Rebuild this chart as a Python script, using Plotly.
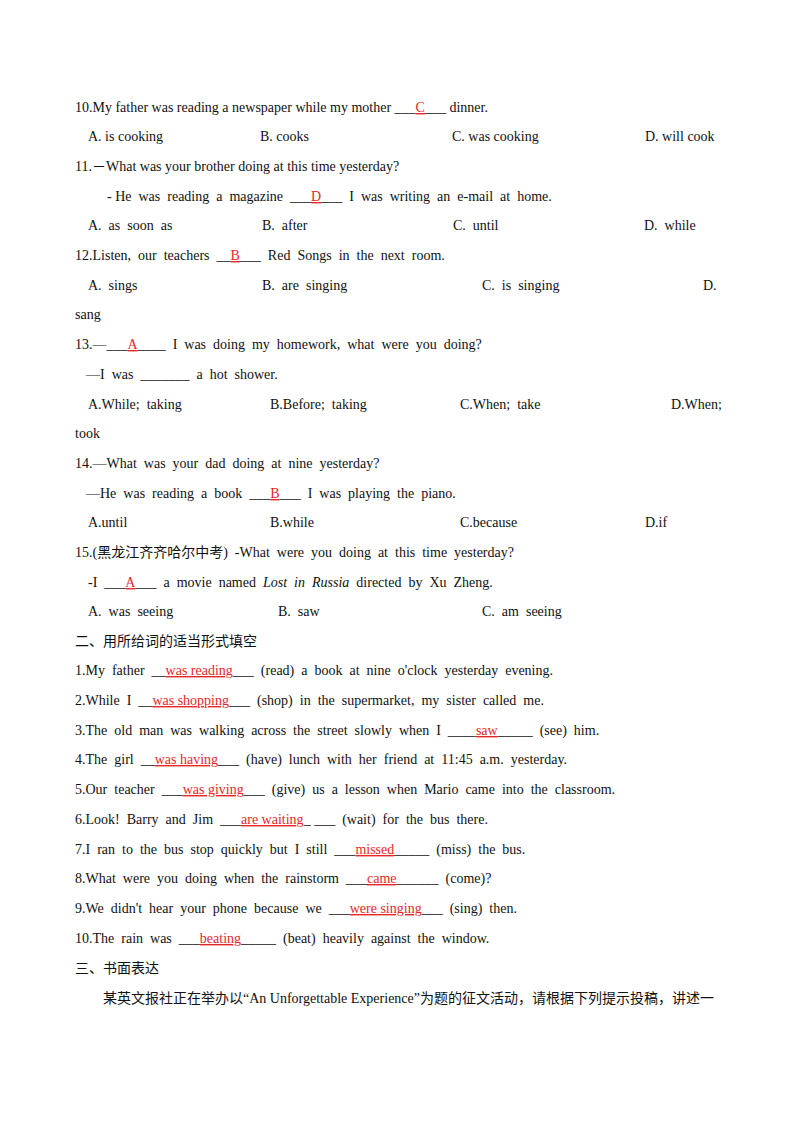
import plotly.graph_objects as go

def R(s):
    return "<span style='color:#e8262a'><u>" + s + "</u></span>"

# Each row: list of (x_position, text); rows are laid out top to bottom
rows = [
    [(75, "10.My father was reading a newspaper while my mother ___" + R("C") + "___ dinner.")],
    [(88, "A. is cooking"), (260, "B. cooks"), (452, "C. was cooking"), (645, "D. will cook")],
    [(75, "11.－What was your brother doing at this time yesterday?")],
    [(107, "- He  was  reading  a  magazine  ___" + R("D") + "___  I  was  writing  an  e-mail  at  home.")],
    [(88, "A.  as  soon  as"), (262, "B.  after"), (453, "C.  until"), (644, "D.  while")],
    [(75, "12.Listen,  our  teachers  __" + R("B") + "___  Red  Songs  in  the  next  room.")],
    [(88, "A.  sings"), (262, "B.  are  singing"), (482, "C.  is  singing"), (703, "D.")],
    [(75, "sang")],
    [(75, "13.—___" + R("A") + "____  I  was  doing  my  homework,  what  were  you  doing?")],
    [(85, "—I  was  _______  a  hot  shower.")],
    [(88, "A.While;  taking"), (270, "B.Before;  taking"), (460, "C.When;  take"), (671, "D.When;")],
    [(75, "took")],
    [(75, "14.—What  was  your  dad  doing  at  nine  yesterday?")],
    [(85, "—He  was  reading  a  book  ___" + R("B") + "___  I  was  playing  the  piano.")],
    [(88, "A.until"), (270, "B.while"), (460, "C.because"), (645, "D.if")],
    [(75, "15.(黑龙江齐齐哈尔中考)  -What  were  you  doing  at  this  time  yesterday?")],
    [(88, "-I  ___" + R("A") + "___  a  movie  named  <i>Lost  in  Russia</i>  directed  by  Xu  Zheng.")],
    [(88, "A.  was  seeing"), (278, "B.  saw"), (482, "C.  am  seeing")],
    [(75, "二、用所给词的适当形式填空")],
    [(75, "1.My  father  __" + R("was reading") + "___  (read)  a  book  at  nine  o'clock  yesterday  evening.")],
    [(75, "2.While  I  __" + R("was shopping") + "___  (shop)  in  the  supermarket,  my  sister  called  me.")],
    [(75, "3.The  old  man  was  walking  across  the  street  slowly  when  I  ____" + R("saw") + "_____  (see)  him.")],
    [(75, "4.The  girl  __" + R("was having") + "___  (have)  lunch  with  her  friend  at  11:45  a.m.  yesterday.")],
    [(75, "5.Our  teacher  ___" + R("was giving") + "___  (give)  us  a  lesson  when  Mario  came  into  the  classroom.")],
    [(75, "6.Look!  Barry  and  Jim  ___" + R("are waiting") + "_ ___  (wait)  for  the  bus  there.")],
    [(75, "7.I  ran  to  the  bus  stop  quickly  but  I  still  ___" + R("missed") + "_____  (miss)  the  bus.")],
    [(75, "8.What  were  you  doing  when  the  rainstorm  ___" + R("came") + "______  (come)?")],
    [(75, "9.We  didn't  hear  your  phone  because  we  ___" + R("were singing") + "___  (sing)  then.")],
    [(75, "10.The  rain  was  ___" + R("beating") + "_____  (beat)  heavily  against  the  window.")],
    [(75, "三、书面表达")],
    [(103, "某英文报社正在举办以“An Unforgettable Experience”为题的征文活动，请根据下列提示投稿，讲述一")],
]

first_y = 107
line_gap = 29.7
x_shift = -10
y_shift = -8

fig = go.Figure()
anns = []
for i, row in enumerate(rows):
    y = first_y + i * line_gap + y_shift
    for x, t in row:
        anns.append(dict(x=x + x_shift, y=y, xref="x", yref="y", text=t, showarrow=False,
                         xanchor="left", yanchor="middle",
                         font=dict(family="Liberation Serif, Noto Sans CJK SC", size=14, color="#111")))
fig.update_layout(
    width=800, height=1132, margin=dict(l=0, r=0, t=0, b=0),
    paper_bgcolor="white", plot_bgcolor="white", annotations=anns,
    xaxis=dict(range=[0, 800], visible=False),
    yaxis=dict(range=[1132, 0], visible=False),
    showlegend=False,
)
fig.write_html("out.html")
